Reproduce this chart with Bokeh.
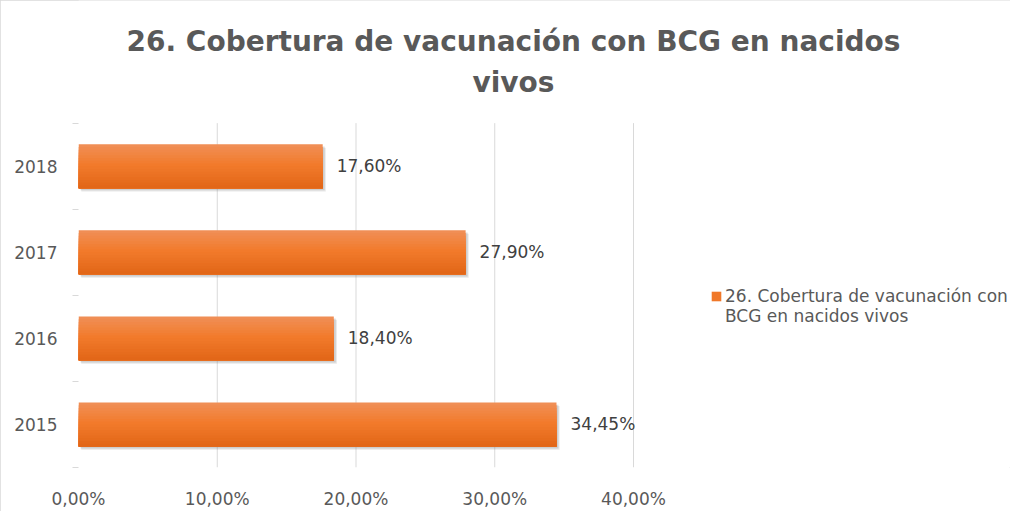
from bokeh.plotting import figure
from bokeh.models import (Range1d, LinearAxis, FixedTicker,
                          CustomJSTickFormatter, Label, Legend, LegendItem, ColumnDataSource)
from bokeh.transform import dodge
from bokeh.core.properties import value
from bokeh.embed import file_html
from bokeh.resources import INLINE

# ---- data ----
years = ["2015", "2016", "2017", "2018"]
coverage = [34.45, 18.40, 27.90, 17.60]          # percent
x_ticks = [0, 10, 20, 30, 40]
title_lines = ["26. Cobertura de vacunación con BCG en nacidos", "vivos"]
legend_lines = ["26. Cobertura de vacunación con", "BCG en nacidos vivos"]

labels = [f"{v:.2f}".replace(".", ",") + "%" for v in coverage]
pos = [i + 0.5 for i in range(len(years))]
src = ColumnDataSource(dict(pos=pos, val=coverage, lab=labels))

FONT = "DejaVu Sans"
GRAY = "#595959"

# layout (pixels)
W, H = 1010, 511
LEFT, BOTTOM = 78, 35
PLOT_W, PLOT_H = 555, 351            # pixel size of the 0..40 x 0..4 plot area
frame_w, frame_h = W - LEFT, H - BOTTOM
x_max = x_ticks[-1]
n = len(years)
X_END = x_max * frame_w / PLOT_W
Y_END = n * frame_h / PLOT_H

p = figure(width=W, height=H, output_backend="svg", toolbar_location=None,
           y_range=Range1d(0, Y_END), x_range=Range1d(0, X_END),
           x_axis_location=None, y_axis_location=None,
           min_border_left=LEFT, min_border_right=0, min_border_top=0, min_border_bottom=BOTTOM)
p.styles = {"outline": "1px solid #D9D9D9", "outline-offset": "-1px"}
p.outline_line_color = None
p.background_fill_color = "white"
p.border_fill_color = "white"
p.grid.grid_line_color = None

# vertical gridlines over the plot area only
p.segment(x0=x_ticks[1:], x1=x_ticks[1:], y0=[0] * 4, y1=[n] * 4,
          line_color="#D9D9D9", line_width=1)

# x axis
xa = LinearAxis(ticker=FixedTicker(ticks=x_ticks),
                formatter=CustomJSTickFormatter(code="return tick.toFixed(2).replace('.', ',') + '%';"))
xa.axis_line_color = None
xa.major_tick_line_color = None
xa.minor_tick_line_color = None
xa.major_label_text_font = FONT
xa.major_label_text_font_size = "17px"
xa.major_label_text_color = GRAY
xa.major_label_standoff = 15
p.add_layout(xa, "below")

# category axis: labels at category centres, small tick marks at category boundaries
ya = LinearAxis(ticker=FixedTicker(ticks=pos, minor_ticks=list(range(n + 1))),
                major_label_overrides={pv: y for pv, y in zip(pos, years)})
ya.axis_line_color = None
ya.major_tick_line_color = None
ya.major_tick_out = 6
ya.major_tick_in = 0
ya.minor_tick_line_color = "#D9D9D9"
ya.minor_tick_out = 6
ya.minor_tick_in = 0
ya.major_label_text_font = FONT
ya.major_label_text_font_size = "17px"
ya.major_label_text_color = GRAY
ya.major_label_standoff = 15
p.add_layout(ya, "left")

# bars: soft shadow + gradient (each strip runs from its top edge to the bar bottom)
BAR_H = 0.51
p.hbar(y=dodge("pos", -0.04), left=0.2, right=dodge("val", 0.22), height=BAR_H,
       source=src, fill_color="#808080", fill_alpha=0.18, line_color=None)
p.hbar(y=dodge("pos", -0.025), left=0.15, right=dodge("val", 0.14), height=BAR_H,
       source=src, fill_color="#808080", fill_alpha=0.25, line_color=None)

stops = [(0.0, (0xF0, 0x8E, 0x55)), (0.45, (0xF2, 0x7B, 0x2C)), (1.0, (0xE2, 0x67, 0x18))]
def col(t):
    for (t0, c0), (t1, c1) in zip(stops[:-1], stops[1:]):
        if t <= t1:
            f = (t - t0) / (t1 - t0)
            return "#%02x%02x%02x" % tuple(int(round(a + (b - a) * f)) for a, b in zip(c0, c1))
    return "#%02x%02x%02x" % stops[-1][1]

N = 16
h = BAR_H / N
legend_r = None
for i in range(N):
    hh = BAR_H - i * h
    off = BAR_H / 2 - i * h - hh / 2
    r = p.hbar(y=dodge("pos", off), left=0, right="val", height=hh,
               source=src, fill_color=col(i / (N - 1)), line_color=None)
    if i == N // 2:
        legend_r = r

# invisible twin, used only to carry the second (glyph-less) legend line
blank_r = p.hbar(y="pos", left=0, right="val", height=BAR_H, source=src,
                 fill_alpha=0, line_alpha=0)

# data labels
p.text(x="val", y="pos", text="lab", source=src, x_offset=14,
       text_font=value(FONT), text_font_size="17px", text_color="#404040",
       text_align="left", text_baseline="middle")

# title
p.add_layout(Label(x=31.35, y=4.946, text=title_lines[0], text_font=FONT, text_font_size="28px",
                   text_font_style="bold", text_color=GRAY, text_align="center", text_baseline="middle"))
p.add_layout(Label(x=31.35, y=4.467, text=title_lines[1], text_font=FONT, text_font_size="28px",
                   text_font_style="bold", text_color=GRAY, text_align="center", text_baseline="middle"))

# legend
leg = Legend(items=[LegendItem(label=legend_lines[0], renderers=[legend_r]),
                    LegendItem(label=legend_lines[1], renderers=[blank_r])],
             location=(632, 141), orientation="vertical")
leg.border_line_color = None
leg.background_fill_alpha = 0
leg.padding = 0
leg.margin = 0
leg.spacing = 0
leg.glyph_width = 12
leg.glyph_height = 12
leg.label_height = 20
leg.label_text_font = FONT
leg.label_text_font_size = "17px"
leg.label_text_color = GRAY
leg.label_standoff = 3
p.add_layout(leg, "center")

open("out.html", "w").write(file_html(p, INLINE))
